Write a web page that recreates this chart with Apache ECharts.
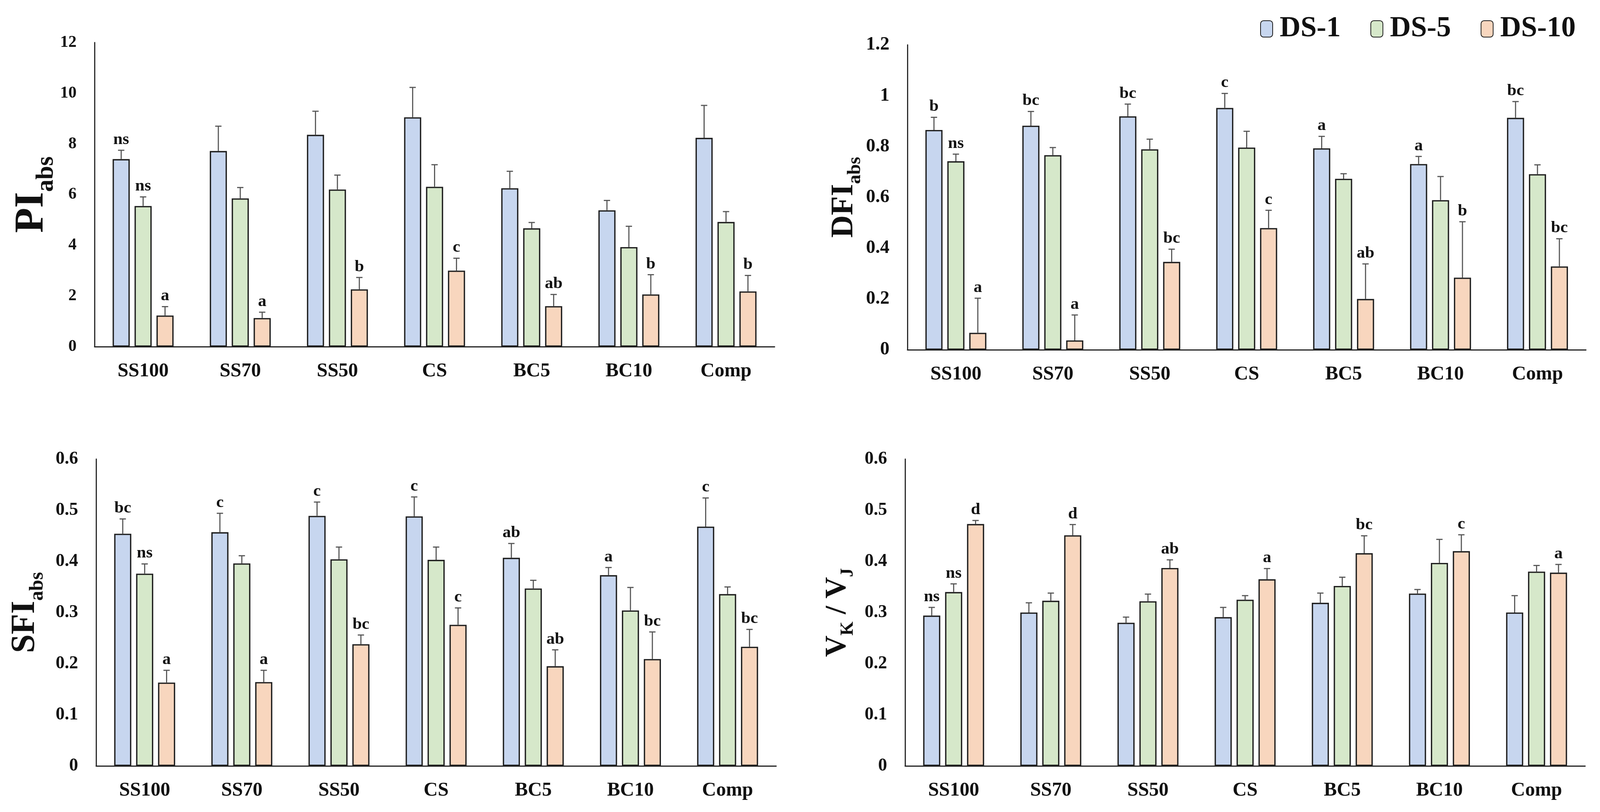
<!DOCTYPE html>
<html><head><meta charset="utf-8">
<script src="https://cdn.jsdelivr.net/npm/echarts@6/dist/echarts.min.js"></script>
<style>html,body{margin:0;padding:0;background:#fff;overflow:hidden}#c{width:100vw;height:100vh}</style>
</head><body><div id="c"></div>
<script>
const categories = ['SS100','SS70','SS50','CS','BC5','BC10','Comp'];
const seriesNames = ['DS-1','DS-5','DS-10'];

// PI_abs
const pi1 = [7.40, 7.72, 8.36, 9.05, 6.25, 5.38, 8.24];
const pi1Err = [0.35, 0.98, 0.93, 1.18, 0.67, 0.39, 1.28];
const pi5 = [5.55, 5.85, 6.20, 6.31, 4.67, 3.93, 4.92];
const pi5Err = [0.36, 0.43, 0.57, 0.87, 0.23, 0.82, 0.41];
const pi10 = [1.23, 1.13, 2.26, 3.00, 1.60, 2.06, 2.18];
const pi10Err = [0.35, 0.23, 0.47, 0.49, 0.46, 0.78, 0.63];
const piLab1 = ['ns','','','','','',''];
const piLab5 = ['ns','','','','','',''];
const piLab10 = ['a','a','b','c','ab','b','b'];

// DFI_abs
const dfi1 = [0.865, 0.882, 0.919, 0.952, 0.793, 0.731, 0.913];
const dfi1Err = [0.050, 0.056, 0.048, 0.057, 0.047, 0.030, 0.064];
const dfi5 = [0.742, 0.766, 0.789, 0.796, 0.673, 0.589, 0.691];
const dfi5Err = [0.028, 0.030, 0.040, 0.064, 0.020, 0.093, 0.037];
const dfi10 = [0.067, 0.037, 0.346, 0.479, 0.200, 0.284, 0.328];
const dfi10Err = [0.136, 0.100, 0.050, 0.070, 0.138, 0.220, 0.109];
const dfiLab1 = ['b','bc','bc','c','a','a','bc'];
const dfiLab5 = ['ns','','','','','',''];
const dfiLab10 = ['a','a','bc','c','ab','b','bc'];

// SFI_abs
const sfi1 = [0.454, 0.457, 0.489, 0.488, 0.407, 0.373, 0.468];
const sfi1Err = [0.029, 0.037, 0.027, 0.038, 0.028, 0.015, 0.056];
const sfi5 = [0.376, 0.396, 0.404, 0.403, 0.347, 0.304, 0.336];
const sfi5Err = [0.019, 0.015, 0.024, 0.025, 0.016, 0.045, 0.014];
const sfi10 = [0.163, 0.164, 0.238, 0.276, 0.195, 0.209, 0.233];
const sfi10Err = [0.024, 0.023, 0.018, 0.033, 0.032, 0.053, 0.034];
const sfiLab1 = ['bc','c','c','c','ab','a','c'];
const sfiLab5 = ['ns','','','','','',''];
const sfiLab10 = ['a','a','bc','c','ab','bc','bc'];

// VK/VJ
const vk1 = [0.294, 0.300, 0.280, 0.291, 0.319, 0.337, 0.300];
const vk1Err = [0.016, 0.019, 0.011, 0.019, 0.019, 0.008, 0.033];
const vk5 = [0.340, 0.323, 0.322, 0.325, 0.352, 0.397, 0.380];
const vk5Err = [0.016, 0.015, 0.014, 0.008, 0.017, 0.046, 0.012];
const vk10 = [0.473, 0.451, 0.387, 0.365, 0.416, 0.420, 0.378];
const vk10Err = [0.007, 0.021, 0.016, 0.021, 0.034, 0.032, 0.016];
const vkLab1 = ['ns','','','','','',''];
const vkLab5 = ['ns','','','','','',''];
const vkLab10 = ['d','d','ab','a','bc','c','a'];

const FONT = '"Liberation Serif","Times New Roman",serif';
const colors = ['#C7D6EF','#D6E8CA','#F8D6BE'];

const el = document.getElementById('c');
const W = el.clientWidth || window.innerWidth, H = el.clientHeight || window.innerHeight;
const sx = W / 4297, sy = H / 2080, s = Math.min(sx, sy);
const BW = 46 * sx, GAP_RATIO = 0.28;
function X(v){ return Math.round(v * sx); }
function Y(v){ return Math.round(v * sy); }
function F(v){ return Math.round(v * s); }

const panels = [
  {grid:{left:X(254), top:Y(109), right:X(2217), bottom:Y(1192)}, max:12, interval:2, tickFont:44,
   name:'{m|PI}{s|abs}', M:110, S:66, gap:88,
   vals:[pi1,pi5,pi10], errs:[pi1Err,pi5Err,pi10Err], labs:[piLab1,piLab5,piLab10]},
  {grid:{left:X(2437), top:Y(115), right:X(38), bottom:Y(1184)}, max:1.2, interval:0.2, tickFont:50,
   name:'{m|DFI}{s|abs}', M:84, S:50, gap:110,
   vals:[dfi1,dfi5,dfi10], errs:[dfi1Err,dfi5Err,dfi10Err], labs:[dfiLab1,dfiLab5,dfiLab10]},
  {grid:{left:X(258), top:Y(1176), right:X(2213), bottom:Y(118)}, max:0.6, interval:0.1, tickFont:48,
   name:'{m|SFI}{s|abs}', M:90, S:54, gap:145,
   vals:[sfi1,sfi5,sfi10], errs:[sfi1Err,sfi5Err,sfi10Err], labs:[sfiLab1,sfiLab5,sfiLab10]},
  {grid:{left:X(2431), top:Y(1176), right:X(40), bottom:Y(118)}, max:0.6, interval:0.1, tickFont:48,
   name:'{m|V}{s|K}{m| / V}{s|J}', M:80, S:48, gap:142,
   vals:[vk1,vk5,vk10], errs:[vk1Err,vk5Err,vk10Err], labs:[vkLab1,vkLab5,vkLab10]}
];

function errRender(labs, k) {
  return function (params, api) {
    const i = api.value(0), v = api.value(1), e = api.value(2);
    const off = (k - 1) * BW * (1 + GAP_RATIO);
    const p0 = api.coord([i, v]);
    const p1 = api.coord([i, v + e]);
    const x = p0[0] + off;
    const lw = Math.max(1, 3 * s), cap = 8.5 * sx;
    const children = [];
    if (e > 0) {
      children.push({type:'line', shape:{x1:x, y1:p0[1], x2:x, y2:p1[1]}, style:{stroke:'#555555', lineWidth:lw}});
      children.push({type:'line', shape:{x1:x-cap, y1:p1[1], x2:x+cap, y2:p1[1]}, style:{stroke:'#555555', lineWidth:lw}});
    }
    const lab = labs[i];
    if (lab) {
      children.push({type:'text', x:x, y:p1[1] - 6 * s,
        style:{text:lab, fill:'#111', font:'bold ' + F(45) + 'px ' + FONT, align:'center', verticalAlign:'bottom'}});
    }
    return {type:'group', children: children};
  };
}

const grids = [], xAxes = [], yAxes = [], series = [];
panels.forEach(function (p, pi) {
  grids.push(Object.assign({containLabel:false}, p.grid));
  xAxes.push({type:'category', gridIndex:pi, data:categories,
    axisLine:{show:true, lineStyle:{color:'#222', width:Math.max(1, 3*s)}}, axisTick:{show:false},
    axisLabel:{fontFamily:FONT, fontWeight:'bold', fontSize:F(52), color:'#111', margin:F(40)}});
  const M = F(p.M), S = F(p.S);
  const P = Math.round(1.05 * M - 0.83 * S);
  yAxes.push({type:'value', gridIndex:pi, min:0, max:p.max, interval:p.interval,
    axisLine:{show:true, lineStyle:{color:'#222', width:Math.max(1, 3*s)}}, axisTick:{show:false}, splitLine:{show:false},
    axisLabel:{fontFamily:FONT, fontWeight:'bold', fontSize:F(p.tickFont), color:'#111', margin:X(48)},
    name:p.name, nameLocation:'middle', nameRotate:90, nameGap:X(p.gap),
    nameTextStyle:{rich:{
      m:{fontFamily:FONT, fontWeight:'bold', fontSize:M, lineHeight:M, verticalAlign:'top', color:'#111'},
      s:{fontFamily:FONT, fontWeight:'bold', fontSize:S, lineHeight:S, padding:[P,0,0,0], verticalAlign:'top', color:'#111'}
    }}});
  for (let k = 0; k < 3; k++) {
    series.push({type:'bar', name:seriesNames[k], xAxisIndex:pi, yAxisIndex:pi,
      data:p.vals[k], barWidth:BW, barGap:(GAP_RATIO*100)+'%',
      itemStyle:{color:colors[k], borderColor:'#1e1e1e', borderWidth:Math.max(1, 3.5*s)}});
  }
  for (let k = 0; k < 3; k++) {
    const d = p.vals[k].map(function (v, i) { return [i, v, p.errs[k][i]]; });
    series.push({type:'custom', name:'err-' + seriesNames[k] + '-' + pi, xAxisIndex:pi, yAxisIndex:pi,
      data:d, renderItem:errRender(p.labs[k], k), z:5, silent:true});
  }
});

const chart = echarts.init(el, null, {renderer:'canvas', width:W, height:H});
chart.setOption({
  animation:false,
  backgroundColor:'#fff',
  legend:{data:seriesNames, left:X(3379), top:Y(32), itemWidth:X(32), itemHeight:Y(42), itemGap:X(80),
    textStyle:{fontFamily:FONT, fontWeight:'bold', fontSize:F(78), color:'#111', padding:[0,0,0,X(14)]}},
  grid:grids, xAxis:xAxes, yAxis:yAxes, series:series
});
</script></body></html>
